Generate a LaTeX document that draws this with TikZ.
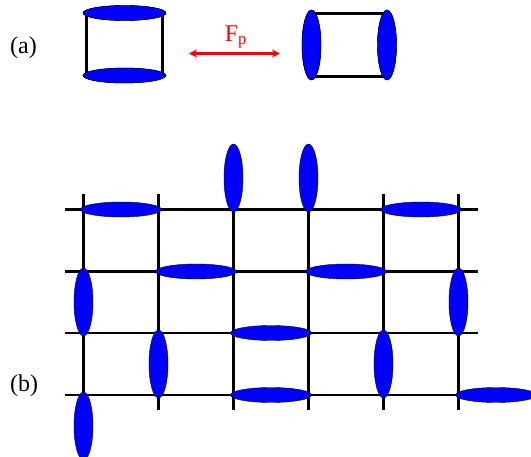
\documentclass[tikz,border=0pt]{standalone}
\usepackage{fontspec}
\setmainfont{Liberation Serif}
\usetikzlibrary{shapes.geometric, arrows.meta}

\tikzset{
    hdisk/.style={ellipse, draw=black, thin, fill=blue, inner sep=0pt, minimum width=81pt, minimum height=15pt},
    vdisk/.style={ellipse, draw=black, thin, fill=blue, inner sep=0pt, minimum width=19pt, minimum height=68pt},
    bond/.style={line width=2.6pt},
    lbl/.style={font=\fontsize{24}{28}\selectfont}
}

\begin{document}
\begin{tikzpicture}[x=1pt, y=-1pt]
    \useasboundingbox (0,0) rectangle (531,457);

    % (a) Cylinders and the force
    \node[lbl] (la) at (23.5,48) {(a)};
    \node[hdisk, minimum width=83pt] (atop) at (124.5,13) {};
    \node[hdisk, minimum width=83pt] (abot) at (124.5,75.5) {};
    \draw[bond] ([xshift=3.5pt]atop.west) -- ([xshift=3.5pt]abot.west);
    \draw[bond] ([xshift=-3.5pt]atop.east) -- ([xshift=-3.5pt]abot.east);
    \node[hdisk, minimum width=83pt] at (124.5,13) {};
    \node[hdisk, minimum width=83pt] at (124.5,75.5) {};

    \coordinate (fl) at (189,53.5);
    \coordinate (fr) at (280,53.5);
    \draw[red, line width=2.2pt, {Stealth[length=8pt, width=8pt]}-{Stealth[length=8pt, width=8pt]}] (fl) -- (fr);
    \node[lbl, text=red] (fp) at (236,37) {F\textsubscript{p}};

    \node[vdisk, minimum height=70pt] (aleft) at (311.5,45) {};
    \node[vdisk, minimum height=70pt] (aright) at (387,45) {};
    \draw[bond] ([yshift=-3.5pt]aleft.north) -- ([yshift=-3.5pt]aright.north);
    \draw[bond] ([yshift=3.5pt]aleft.south) -- ([yshift=3.5pt]aright.south);
    \node[vdisk, minimum height=70pt] at (311.5,45) {};
    \node[vdisk, minimum height=70pt] at (387,45) {};

    % (b) Lattice
    \node[lbl] (lb) at (24,386) {(b)};
    \foreach \y in {209.5, 271.5, 333, 395}
        \draw[bond] (65,\y) -- (477.5,\y);
    \foreach \x in {83.5, 158.5, 233.5, 308.5, 383.5, 458.5}
        \draw[bond] (\x,194) -- (\x,410);

    % Horizontal disks
    \foreach \x/\y [count=\i] in {
        121/209.5, 421/209.5, 196/271.5, 346/271.5,
        271/333, 271/395, 496/395
    } {
        \node[hdisk] (h\i) at (\x,\y) {};
    }

    % Vertical disks
    \foreach \x/\y [count=\i] in {
        233.5/178, 308.5/178, 83.5/302, 458.5/302,
        158.5/364, 383.5/364, 83.5/426
    } {
        \node[vdisk] (v\i) at (\x,\y) {};
    }
\end{tikzpicture}
\end{document}
